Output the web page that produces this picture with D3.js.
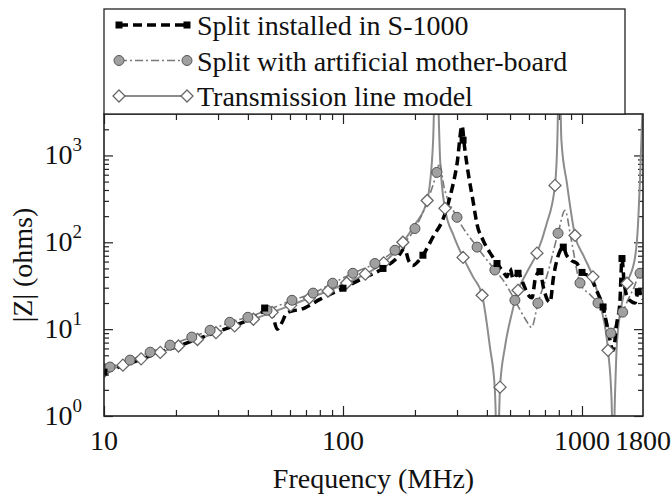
<!DOCTYPE html>
<html>
<head>
<meta charset="utf-8">
<script src="https://cdn.jsdelivr.net/npm/d3@7"></script>
<style>
  body { margin: 0; background: #fff; }
</style>
</head>
<body>
<script>
const width = 672;
const height = 494;
const margin = {"left":104,"bottom":78,"right":29,"top":114}

// Split installed in S-1000 (black dashed)
const s1000Freq = [10,12,14.3,17,20.5,24.6,29.4,35.2,42,47,49,51,53,56,58,69,80,100,120,147,170,181,188,196,206,216,240,260,280,300,315,322,335,350,364,386,420,441,470,485,500,515,540,566,590,618,640,667,690,715,735,760,785,810,835,860,900,953,1000,1080,1150,1225,1285,1350,1400,1440,1470,1500,1540,1600,1667,1720,1800];
const s1000Z =    [3.2,3.8,4.5,5.4,6.4,7.7,9.2,11,13.5,16.5,18.4,14,10,12.5,15.3,17.5,22,29.6,38,50,68,85,62,54,60,71,120,175,330,800,2200,1300,600,300,160,105,70,57,45,40,50,38,44,34,26,23,40,46,30,22,20.4,40,62,80,88,72,62,57,45,40,28,18,9.7,5.7,12,20,65,35,24,21,20,27,22];
const s1000MarkFreq = [10,47,100,147,216,318,441,540,667,835,1000,1225,1470,1720];
const s1000MarkZ =    [3.2,17.5,29.6,50,71,1500,57,44,46,88,45,18,65,27];

// Split with artificial mother-board (grey dash-dot, circles)
const ambFreq = [10,10.6,12.85,15.6,18.9,23.3,27.8,33.6,40,48.1,61.2,75,90.5,110,136,165,200,247,253,265,300,364,432,470,524,580,615,654,720,794,849,900,981,1080,1167,1250,1320,1380,1480,1560,1650,1750,1800];
const ambZ =    [3.5,3.66,4.4,5.43,6.54,8.1,9.7,12,13.7,16.5,21.5,26,33.8,44,57,81,144,638,809,429,194,88,48,36,21.5,13,10.5,19.9,45,127,233,110,34,25,20,15,9,11,15.7,22,30,44,40];
const ambMarkFreq = [10.6,12.85,15.6,18.9,23.3,27.8,33.6,40,48.1,61.2,75,90.5,110,136,165,200,247,300,364,432,524,654,794,981,1167,1320,1480,1750];
const ambMarkZ =    [3.66,4.4,5.43,6.54,8.1,9.7,12,13.7,16.5,21.5,26,33.8,44,57,81,144,638,194,88,48,21.5,19.9,127,34,20,9,15.7,44];

// Transmission line model (grey solid, open diamonds)
const tlmFreq = [10,12,14.3,17.2,20.5,24.6,29.4,35.2,42.2,50.5,60.4,72.3,86.6,103.6,124,148,178,200,225,238,245,255,267,290,318,350,382,412,432,443,454,476,509,540,590,648,710,771,790,802,820,865,935,1020,1111,1200,1285,1330,1350,1375,1400,1470,1543,1667,1713,1750,1800];
const tlmZ =    [3.25,3.85,4.55,5.4,6.4,7.6,9.1,10.9,13,15.6,18.8,22.8,27.5,34,43,58,100,160,303,1374,20000,877,246,120,67,40,24.6,6.2,2,0.3,2.15,6.2,15.3,28,46,75,160,452,1800,20000,1500,476,120,68,40,18,5.7,1.5,0.3,1.8,6.9,20,33.8,67,149,560,5000];
const tlmMarkFreq = [10,12,14.3,17.2,20.5,24.6,29.4,35.2,42.2,50.5,60.4,72.3,86.6,103.6,124,148,178,225,267,318,382,454,540,648,771,935,1111,1285,1543];
const tlmMarkZ =    [3.25,3.85,4.55,5.4,6.4,7.6,9.1,10.9,13,15.6,18.8,22.8,27.5,34,43,58,100,303,246,67,24.6,2.15,28,75,452,120,40,5.7,33.8];

const xMajor = [10,100,1000];
const xMinor = [20,30,40,50,60,70,80,90,200,300,400,500,600,700,800,900];
const xLabels = [10,100,1000,1800];
const yMajor = [1,10,100,1000];
const yMinor = [2,3,4,5,6,7,8,9,20,30,40,50,60,70,80,90,200,300,400,500,600,700,800,900,2000];

const legendNames = ["Split installed in S-1000","Split with artificial mother-board","Transmission line model"];

const svg = d3.select("body").append("svg").attr("width",width).attr("height",height)
  .attr("font-family","'Liberation Serif','DejaVu Serif',serif");

const xScale = d3.scaleLog().domain([10,1800]).range([margin.left,width-margin.right]);
const yScale = d3.scaleLog().domain([1,3000]).range([height-margin.bottom,margin.top]);

svg.append("clipPath").attr("id","clip").append("rect")
  .attr("x",margin.left).attr("y",margin.top)
  .attr("width",width-margin.left-margin.right).attr("height",height-margin.top-margin.bottom);

// ticks, all pointing inward
const tickG = (axis,tr)=>svg.append("g").attr("transform",tr).call(axis)
  .call(g=>g.select(".domain").remove())
  .call(g=>g.selectAll("line").attr("stroke","#222").attr("stroke-width",1.2))
  .call(g=>g.selectAll("text").remove());

const b = height-margin.bottom, t = margin.top, l = margin.left, r = width-margin.right;
tickG(d3.axisBottom(xScale).tickValues(xMajor).tickSize(-10),`translate(0,${b})`);
tickG(d3.axisBottom(xScale).tickValues(xMinor).tickSize(-6),`translate(0,${b})`);
tickG(d3.axisTop(xScale).tickValues(xMajor).tickSize(-10),`translate(0,${t})`);
tickG(d3.axisTop(xScale).tickValues(xMinor).tickSize(-6),`translate(0,${t})`);
tickG(d3.axisLeft(yScale).tickValues(yMajor).tickSize(-9),`translate(${l},0)`);
tickG(d3.axisLeft(yScale).tickValues(yMinor).tickSize(-5),`translate(${l},0)`);
tickG(d3.axisRight(yScale).tickValues(yMajor).tickSize(-9),`translate(${r},0)`);
tickG(d3.axisRight(yScale).tickValues(yMinor).tickSize(-5),`translate(${r},0)`);

// tick labels
svg.append("g").selectAll("text").data(xLabels).enter().append("text")
  .attr("x",d=>xScale(d)).attr("y",b+34).attr("text-anchor","middle")
  .attr("font-size",28).attr("fill","#111").text(d=>d);

const yl = svg.append("g").selectAll("text").data(yMajor).enter().append("text")
  .attr("x",l-22).attr("y",d=>yScale(d)+9).attr("text-anchor","end")
  .attr("font-size",28).attr("fill","#111");
yl.append("tspan").text("10");
yl.append("tspan").attr("dy",-13).attr("font-size",19).text(d=>Math.round(Math.log10(d)));

svg.append("text").attr("x",(l+r)/2).attr("y",height-6).attr("text-anchor","middle")
  .attr("font-size",28).attr("fill","#111").text("Frequency (MHz)");
svg.append("text").attr("transform",`translate(32,${(t+b)/2}) rotate(-90)`)
  .attr("text-anchor","middle").attr("font-size",28).attr("fill","#111").text("|Z| (ohms)");

// series
const line = d3.line().x(d=>xScale(d[0])).y(d=>yScale(d[1])).curve(d3.curveMonotoneX);
const plot = svg.append("g").attr("clip-path","url(#clip)");

const styles = [
  {stroke:"#000",width:3.5,dash:"9,5"},
  {stroke:"#7a7a7a",width:1.6,dash:"8,3,2,3"},
  {stroke:"#8c8c8c",width:2,dash:null}
];

plot.append("path").datum(d3.zip(tlmFreq,tlmZ)).attr("d",line).attr("fill","none")
  .attr("stroke",styles[2].stroke).attr("stroke-width",styles[2].width);
plot.append("path").datum(d3.zip(ambFreq,ambZ)).attr("d",line).attr("fill","none")
  .attr("stroke",styles[1].stroke).attr("stroke-width",styles[1].width).attr("stroke-dasharray",styles[1].dash);
plot.append("path").datum(d3.zip(s1000Freq,s1000Z)).attr("d",line).attr("fill","none")
  .attr("stroke",styles[0].stroke).attr("stroke-width",styles[0].width).attr("stroke-dasharray",styles[0].dash);

const diamond = (g,x,y)=>g.append("path").attr("d",`M${x},${y-6}L${x+6},${y}L${x},${y+6}L${x-6},${y}Z`)
  .attr("fill","#fff").attr("stroke","#666").attr("stroke-width",1.3);
const circle = (g,x,y)=>g.append("circle").attr("cx",x).attr("cy",y).attr("r",5)
  .attr("fill","#a0a0a0").attr("stroke","#555").attr("stroke-width",1);
const square = (g,x,y)=>g.append("rect").attr("x",x-3.5).attr("y",y-3.5).attr("width",7).attr("height",7)
  .attr("fill","#000");

d3.zip(tlmMarkFreq,tlmMarkZ).forEach(d=>diamond(plot,xScale(d[0]),yScale(d[1])));
d3.zip(ambMarkFreq,ambMarkZ).forEach(d=>circle(plot,xScale(d[0]),yScale(d[1])));
d3.zip(s1000MarkFreq,s1000MarkZ).forEach(d=>square(plot,xScale(d[0]),yScale(d[1])));

// frame
svg.append("rect").attr("x",l).attr("y",t).attr("width",r-l).attr("height",b-t)
  .attr("fill","none").attr("stroke","#222").attr("stroke-width",1.6);

// legend
const lg = svg.append("g");
lg.append("rect").attr("x",104).attr("y",9).attr("width",521).attr("height",105)
  .attr("fill","#fff").attr("stroke","#222").attr("stroke-width",1.3);
const markers = [square,circle,diamond];
legendNames.forEach((name,i)=>{
  const y = 25+35.5*i;
  lg.append("line").attr("x1",119).attr("x2",187).attr("y1",y).attr("y2",y)
    .attr("stroke",styles[i].stroke).attr("stroke-width",styles[i].width)
    .attr("stroke-dasharray",styles[i].dash);
  markers[i](lg,119,y);
  markers[i](lg,187,y);
  lg.append("text").attr("x",197).attr("y",y+10).attr("font-size",28).attr("fill","#111").text(name);
});
</script>
</body>
</html>
